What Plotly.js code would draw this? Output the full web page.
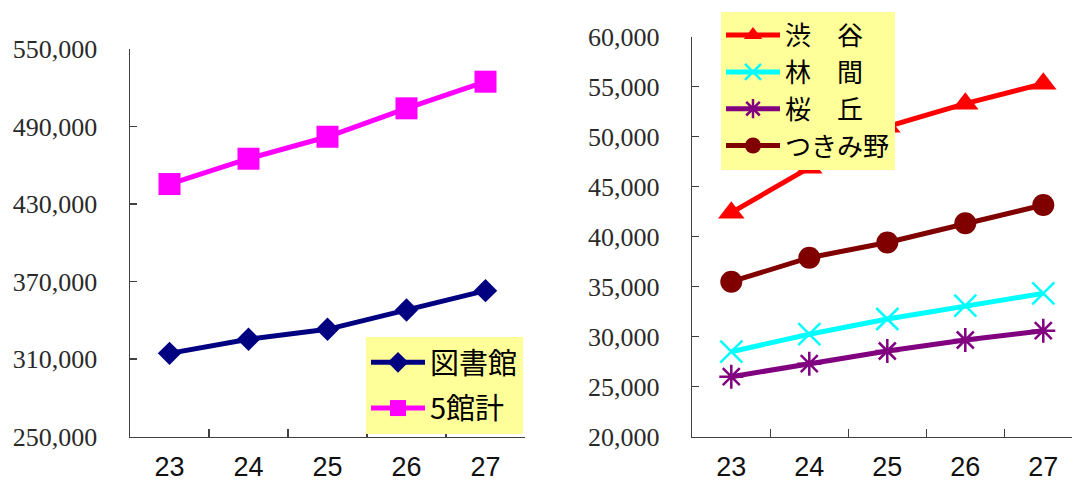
<!DOCTYPE html>
<html><head><meta charset="utf-8">
<script src="https://cdn.plot.ly/plotly-3.0.1.min.js"></script>
<style>html,body{margin:0;padding:0;background:#fff;} #chart{width:1072px;height:481px;}</style>
</head><body><div id="chart"></div>
<script>
// ---- data ----
const years = ['23', '24', '25', '26', '27'];
const leftNames = ['図書館', '5館計'];
const toshokan = [314500, 325400, 333100, 348000, 363000];
const gokankei = [445500, 465100, 482100, 504100, 524700];
const rightNames = ['渋　谷', '林　間', '桜　丘', 'つきみ野'];
const shibuya = [42400, 46900, 51000, 53300, 55300];
const rinkan = [28500, 30250, 31770, 33100, 34330];
const sakuragaoka = [26000, 27300, 28570, 29670, 30600];
const tsukimino = [35500, 37900, 39420, 41340, 43170];

// ---- layout helpers ----
const W = 1072, H = 481;
const px = v => v / W, py = v => 1 - v / H;
const axisColor = '#404040';
const yFont = {family: '"Liberation Serif", "DejaVu Serif", serif', size: 26, color: '#2a2a2a'};
const xFont = {family: '"Liberation Sans", Arial, sans-serif', size: 27, color: '#111'};
const legFontL = {family: '"Noto Sans CJK JP", sans-serif', size: 29, color: '#000'};
const legFontR = {family: '"Noto Sans CJK JP", sans-serif', size: 26, color: '#000'};

function mk(name, y, color, symbol, size, xa, ya, leg, grp, mline) {
  const m = {symbol: symbol, size: size, color: color};
  if (mline) m.line = {color: color, width: mline};
  return {type: 'scatter', mode: 'lines+markers', name: name, x: years, y: y,
    xaxis: xa, yaxis: ya, legend: leg, legendgroup: grp,
    line: {color: color, width: 5}, marker: m, cliponaxis: false};
}

const data = [
  mk(leftNames[0], toshokan, '#000080', 'diamond', 18, 'x', 'y', 'legend', 'a'),
  mk(leftNames[1], gokankei, '#FF00FF', 'square', 22, 'x', 'y', 'legend', 'b'),
  mk(rightNames[0], shibuya, '#FF0000', 'triangle-up', 23, 'x2', 'y2', 'legend2', 'c'),
  mk(rightNames[1], rinkan, '#00FFFF', 'x-thin-open', 22, 'x2', 'y2', 'legend2', 'd', 2.5),
  mk(rightNames[2], sakuragaoka, '#800080', 'asterisk-open', 20, 'x2', 'y2', 'legend2', 'e', 2.5),
  mk(rightNames[3], tsukimino, '#800000', 'circle', 22, 'x2', 'y2', 'legend2', 'f')
];

const xAx = (dom, rng, anchor) => ({domain: dom, type: 'category', range: rng, anchor: anchor,
  tickson: 'boundaries', ticks: 'inside', ticklen: 8, tickwidth: 1.5, tickcolor: axisColor,
  showline: true, linecolor: axisColor, linewidth: 1.5, showgrid: false, zeroline: false,
  tickfont: xFont, ticklabelstandoff: 5, fixedrange: true});
const yAx = (dom, rng, dtick, anchor) => ({domain: dom, range: rng, tick0: rng[0], dtick: dtick, anchor: anchor,
  tickformat: ',d', ticks: 'inside', ticklen: 7, tickwidth: 1.5, tickcolor: axisColor,
  showline: true, linecolor: axisColor, linewidth: 1.5, showgrid: false, zeroline: false,
  tickfont: yFont, ticklabelstandoff: 26, fixedrange: true});
const legBase = {xanchor: 'left', yanchor: 'top', bgcolor: '#FFFF99', borderwidth: 0,
  itemwidth: 54, traceorder: 'grouped', itemclick: false, itemdoubleclick: false};

const layout = {
  width: W, height: H, margin: {l: 0, r: 0, t: 0, b: 0},
  paper_bgcolor: '#ffffff', plot_bgcolor: 'rgba(0,0,0,0)', showlegend: true, hovermode: false,
  xaxis: xAx([px(130), px(525)], [-0.5, 4.5], 'y'),
  yaxis: yAx([py(436.7), py(49)], [250000, 550000], 60000, 'x'),
  xaxis2: xAx([px(692.3), 1], [-0.5, 4.368], 'y2'),
  yaxis2: yAx([py(436.7), py(36.7)], [20000, 60000], 5000, 'x2'),
  legend: Object.assign({}, legBase, {x: px(366), y: py(337), tracegroupgap: 5, font: legFontL}),
  legend2: Object.assign({}, legBase, {x: px(721), y: py(11.7), tracegroupgap: 0, font: legFontR})
};

Plotly.newPlot('chart', data, layout, {staticPlot: true, displayModeBar: false});
</script></body></html>
